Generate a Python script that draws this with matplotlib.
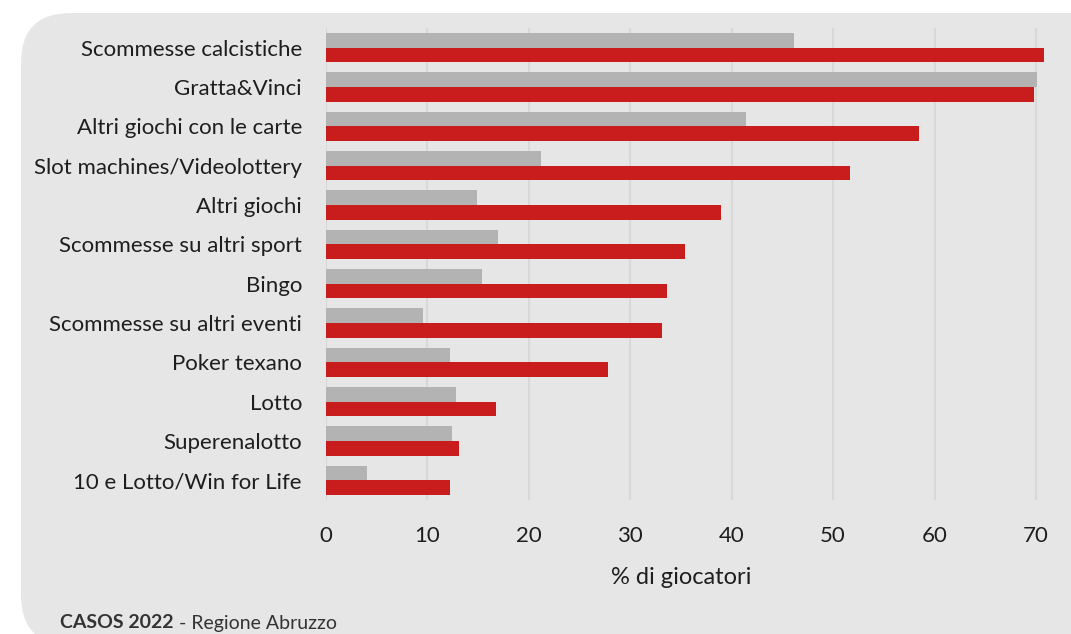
import matplotlib
matplotlib.use("Agg")
import matplotlib.pyplot as plt
from matplotlib.patches import FancyBboxPatch
import numpy as np

categories = [
    "Scommesse calcistiche",
    "Gratta&Vinci",
    "Altri giochi con le carte",
    "Slot machines/Videolottery",
    "Altri giochi",
    "Scommesse su altri sport",
    "Bingo",
    "Scommesse su altri eventi",
    "Poker texano",
    "Lotto",
    "Superenalotto",
    "10 e Lotto/Win for Life",
]
gray_values = [46.1, 70.1, 41.4, 21.2, 14.9, 17.0, 15.4, 9.6, 12.3, 12.8, 12.5, 4.1]
red_values = [70.8, 69.8, 58.5, 51.7, 39.0, 35.4, 33.6, 33.1, 27.8, 16.8, 13.1, 12.3]
xticks = [0, 10, 20, 30, 40, 50, 60, 70]
xlabel = "% di giocatori"
source_bold = "CASOS 2022"
source_rest = " - Regione Abruzzo"

FONT = ["Lato", "DejaVu Sans"]
plt.rcParams["font.family"] = FONT

BG = "#e6e6e6"
GRAY = "#b3b3b3"
RED = "#c91c1c"
GRID = "#d8d8d8"
TEXT = "#1e1e1e"

W, H = 1071, 634
fig = plt.figure(figsize=(W / 100, H / 100), dpi=100)
fig.patch.set_facecolor("white")

# Rounded background panel, drawn in pixel units
bg_ax = fig.add_axes([0, 0, 1, 1])
bg_ax.set_xlim(0, W)
bg_ax.set_ylim(H, 0)
bg_ax.axis("off")
panel = FancyBboxPatch((21 + 50, 13 + 50), 1200, 582 - 100 + 50,
                       boxstyle="round,pad=50", facecolor=BG, edgecolor="none")
bg_ax.add_patch(panel)

# Main bar chart
x0_px, px_per_unit = 325.6, 10.15
xmax = 71.5
ax = fig.add_axes([x0_px / W, (H - 500) / H, xmax * px_per_unit / W, 472 / H])
ax.set_facecolor("none")

y = np.arange(len(categories))
h = 0.375
ax.barh(y - h / 2, gray_values, height=h, color=GRAY, zorder=3)
ax.barh(y + h / 2, red_values, height=h, color=RED, zorder=3)

ax.set_xlim(0, xmax)
ax.set_ylim(len(categories) - 0.5, -0.5)
ax.set_xticks(xticks)
ax.set_xticklabels([str(t) for t in xticks])
ax.set_yticks(y)
ax.set_yticklabels(categories)
ax.tick_params(axis="x", length=0, pad=19, labelsize=16, labelcolor=TEXT)
ax.tick_params(axis="y", length=0, pad=17, labelsize=16, labelcolor=TEXT)
for s in ax.spines.values():
    s.set_visible(False)
ax.grid(axis="x", color=GRID, linewidth=1.5, zorder=0)
ax.set_axisbelow(True)

ax.text(35, -0.165, xlabel, transform=ax.get_xaxis_transform(),
        ha="center", va="center", fontsize=17, color=TEXT)

# Source line
t1 = fig.text(60 / W, 1 - 623 / H, source_bold, fontsize=14, fontweight="bold",
              color="#333333", ha="left", va="center")
fig.canvas.draw()
bb = t1.get_window_extent()
fig.text(bb.x1 / W, 1 - 623 / H, source_rest, fontsize=14,
         color="#333333", ha="left", va="center")

fig.savefig("out.png", dpi=100, facecolor="white")
